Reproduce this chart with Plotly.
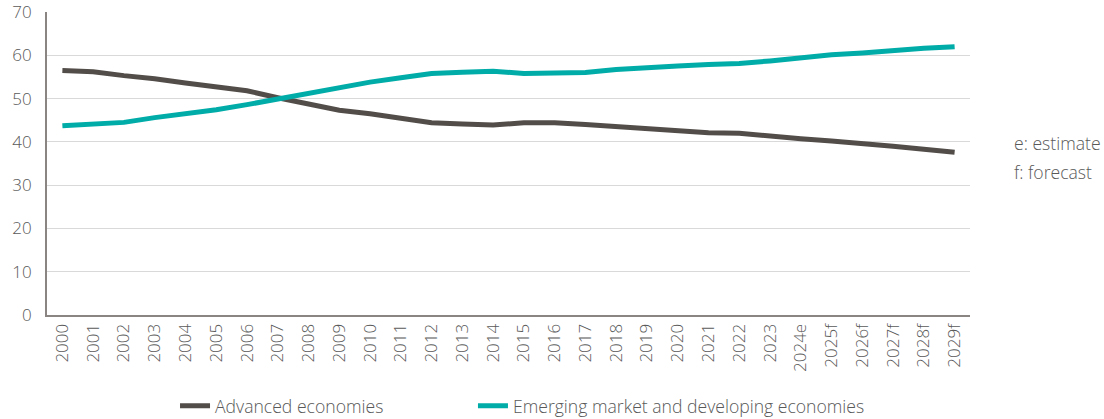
import plotly.graph_objects as go

years = ["2000", "2001", "2002", "2003", "2004", "2005", "2006", "2007", "2008", "2009",
         "2010", "2011", "2012", "2013", "2014", "2015", "2016", "2017", "2018", "2019",
         "2020", "2021", "2022", "2023", "2024e", "2025f", "2026f", "2027f", "2028f", "2029f"]

advanced = [56.5, 56.2, 55.3, 54.6, 53.6, 52.8, 51.8, 50.2, 48.7, 47.3,
            46.5, 45.5, 44.4, 44.1, 43.9, 44.4, 44.4, 44.0, 43.5, 43.1,
            42.4, 42.1, 42.0, 41.3, 40.7, 40.2, 39.7, 39.0, 38.3, 37.6]

emerging = [43.7, 44.0, 44.5, 45.6, 46.4, 47.4, 48.6, 49.9, 51.4, 52.7,
            53.8, 54.8, 55.8, 56.1, 56.3, 55.8, 55.8, 56.0, 56.7, 57.0,
            57.5, 57.9, 58.1, 58.7, 59.4, 60.1, 60.5, 61.1, 61.6, 62.0]

DARK = "#524d49"
TEAL = "#00aca8"
TEXT = "#595959"
FONT = "Open Sans"
LIGHT = dict(family=FONT, size=17.6, color=TEXT, weight=300)

fig = go.Figure()
fig.add_trace(go.Scatter(x=years, y=advanced, name="Advanced economies", mode="lines",
                         line=dict(color=DARK, width=5), legend="legend"))
fig.add_trace(go.Scatter(x=years, y=emerging, name="Emerging market and developing economies",
                         mode="lines", line=dict(color=TEAL, width=5), legend="legend2"))

fig.add_annotation(text="e: estimate", xref="paper", yref="paper", x=1.045, y=0.567,
                   xanchor="left", yanchor="middle", showarrow=False, font=LIGHT)
fig.add_annotation(text="f: forecast", xref="paper", yref="paper", x=1.045, y=0.471,
                   xanchor="left", yanchor="middle", showarrow=False, font=LIGHT)

legend_common = dict(orientation="h", y=-0.24, yanchor="top", xanchor="left",
                     font=LIGHT, bgcolor="rgba(0,0,0,0)")

fig.update_layout(
    width=1104, height=419,
    margin=dict(l=47, r=134, t=12, b=104, autoexpand=False),
    paper_bgcolor="white", plot_bgcolor="white",
    font=dict(family=FONT, color=TEXT),
    showlegend=True,
    legend=dict(x=0.1387, **legend_common),
    legend2=dict(x=0.4615, **legend_common),
    xaxis=dict(type="category", tickangle=-90, showgrid=False, range=[-0.5, 29.5],
               showline=True, linecolor="#8a8583", linewidth=2, automargin=False,
               tickfont=dict(family=FONT, size=17, color=TEXT, weight=300), ticks=""),
    yaxis=dict(range=[0, 70], dtick=10, showgrid=True, gridcolor="#d9d9d9", gridwidth=1,
               showline=True, linecolor="#8a8583", linewidth=2, zeroline=False,
               automargin=False, ticklabeloverflow="allow",
               tickfont=dict(family=FONT, size=17, color=TEXT, weight=300), ticks="",
               ticklabelstandoff=10),
)

fig.write_html("out.html")
